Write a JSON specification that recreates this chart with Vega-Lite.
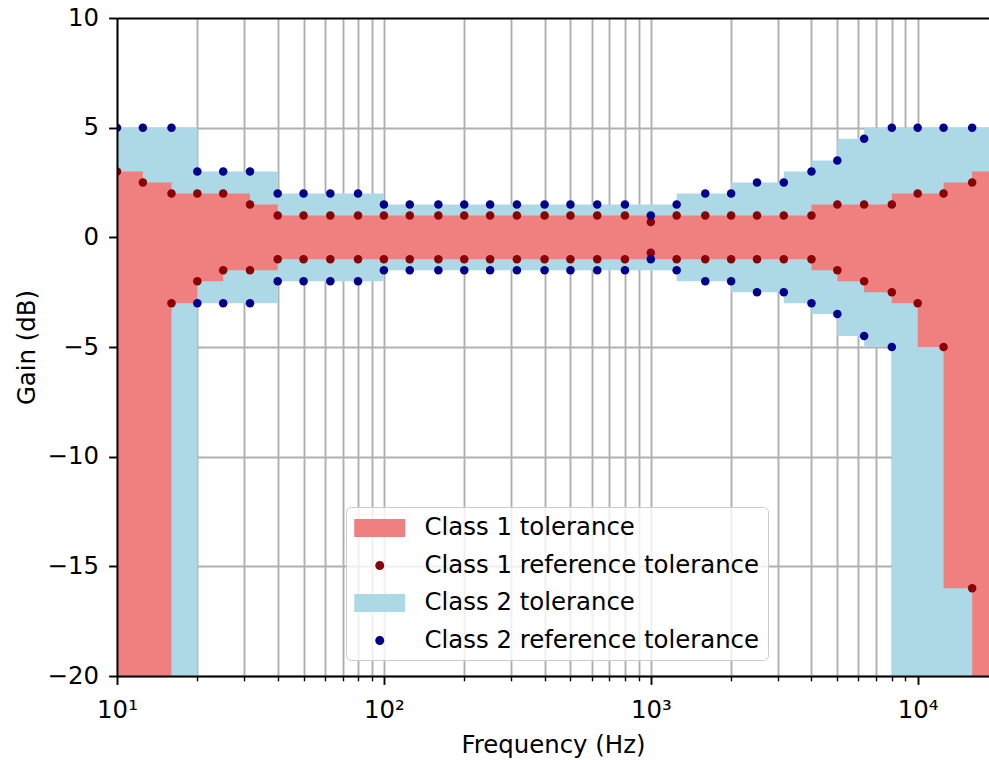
{
  "$schema": "https://vega.github.io/schema/vega-lite/v6.json",
  "autosize": {"type": "none"},
  "padding": {"left": 117, "top": 18, "right": 0, "bottom": 84},
  "width": 872,
  "height": 658,
  "background": "white",
  "config": {"font": "DejaVu Sans", "view": {"stroke": null}},
  "datasets": {
    "bands": [
      {"f": 10, "hi": 3, "lo": -20, "series": "Class 1 tolerance"},
      {"f": 12.5, "hi": 2.5, "lo": -20, "series": "Class 1 tolerance"},
      {"f": 16, "hi": 2, "lo": -3, "series": "Class 1 tolerance"},
      {"f": 20, "hi": 2, "lo": -2, "series": "Class 1 tolerance"},
      {"f": 25, "hi": 2, "lo": -1.5, "series": "Class 1 tolerance"},
      {"f": 31.5, "hi": 1.5, "lo": -1.5, "series": "Class 1 tolerance"},
      {"f": 40, "hi": 1, "lo": -1, "series": "Class 1 tolerance"},
      {"f": 50, "hi": 1, "lo": -1, "series": "Class 1 tolerance"},
      {"f": 63, "hi": 1, "lo": -1, "series": "Class 1 tolerance"},
      {"f": 80, "hi": 1, "lo": -1, "series": "Class 1 tolerance"},
      {"f": 100, "hi": 1, "lo": -1, "series": "Class 1 tolerance"},
      {"f": 125, "hi": 1, "lo": -1, "series": "Class 1 tolerance"},
      {"f": 160, "hi": 1, "lo": -1, "series": "Class 1 tolerance"},
      {"f": 200, "hi": 1, "lo": -1, "series": "Class 1 tolerance"},
      {"f": 250, "hi": 1, "lo": -1, "series": "Class 1 tolerance"},
      {"f": 315, "hi": 1, "lo": -1, "series": "Class 1 tolerance"},
      {"f": 400, "hi": 1, "lo": -1, "series": "Class 1 tolerance"},
      {"f": 500, "hi": 1, "lo": -1, "series": "Class 1 tolerance"},
      {"f": 630, "hi": 1, "lo": -1, "series": "Class 1 tolerance"},
      {"f": 800, "hi": 1, "lo": -1, "series": "Class 1 tolerance"},
      {"f": 1000, "hi": 1, "lo": -1, "series": "Class 1 tolerance"},
      {"f": 1250, "hi": 1, "lo": -1, "series": "Class 1 tolerance"},
      {"f": 1600, "hi": 1, "lo": -1, "series": "Class 1 tolerance"},
      {"f": 2000, "hi": 1, "lo": -1, "series": "Class 1 tolerance"},
      {"f": 2500, "hi": 1, "lo": -1, "series": "Class 1 tolerance"},
      {"f": 3150, "hi": 1, "lo": -1, "series": "Class 1 tolerance"},
      {"f": 4000, "hi": 1.5, "lo": -1.5, "series": "Class 1 tolerance"},
      {"f": 5000, "hi": 1.5, "lo": -2, "series": "Class 1 tolerance"},
      {"f": 6300, "hi": 1.5, "lo": -2.5, "series": "Class 1 tolerance"},
      {"f": 8000, "hi": 2, "lo": -3, "series": "Class 1 tolerance"},
      {"f": 10000, "hi": 2, "lo": -5, "series": "Class 1 tolerance"},
      {"f": 12500, "hi": 2.5, "lo": -16, "series": "Class 1 tolerance"},
      {"f": 16000, "hi": 3, "lo": -20, "series": "Class 1 tolerance"},
      {"f": 20000, "hi": 3, "lo": -20, "series": "Class 1 tolerance"},
      {"f": 10, "hi": 5, "lo": -20, "series": "Class 2 tolerance"},
      {"f": 12.5, "hi": 5, "lo": -20, "series": "Class 2 tolerance"},
      {"f": 16, "hi": 5, "lo": -20, "series": "Class 2 tolerance"},
      {"f": 20, "hi": 3, "lo": -3, "series": "Class 2 tolerance"},
      {"f": 25, "hi": 3, "lo": -3, "series": "Class 2 tolerance"},
      {"f": 31.5, "hi": 3, "lo": -3, "series": "Class 2 tolerance"},
      {"f": 40, "hi": 2, "lo": -2, "series": "Class 2 tolerance"},
      {"f": 50, "hi": 2, "lo": -2, "series": "Class 2 tolerance"},
      {"f": 63, "hi": 2, "lo": -2, "series": "Class 2 tolerance"},
      {"f": 80, "hi": 2, "lo": -2, "series": "Class 2 tolerance"},
      {"f": 100, "hi": 1.5, "lo": -1.5, "series": "Class 2 tolerance"},
      {"f": 125, "hi": 1.5, "lo": -1.5, "series": "Class 2 tolerance"},
      {"f": 160, "hi": 1.5, "lo": -1.5, "series": "Class 2 tolerance"},
      {"f": 200, "hi": 1.5, "lo": -1.5, "series": "Class 2 tolerance"},
      {"f": 250, "hi": 1.5, "lo": -1.5, "series": "Class 2 tolerance"},
      {"f": 315, "hi": 1.5, "lo": -1.5, "series": "Class 2 tolerance"},
      {"f": 400, "hi": 1.5, "lo": -1.5, "series": "Class 2 tolerance"},
      {"f": 500, "hi": 1.5, "lo": -1.5, "series": "Class 2 tolerance"},
      {"f": 630, "hi": 1.5, "lo": -1.5, "series": "Class 2 tolerance"},
      {"f": 800, "hi": 1.5, "lo": -1.5, "series": "Class 2 tolerance"},
      {"f": 1000, "hi": 1.5, "lo": -1.5, "series": "Class 2 tolerance"},
      {"f": 1250, "hi": 2, "lo": -2, "series": "Class 2 tolerance"},
      {"f": 1600, "hi": 2, "lo": -2, "series": "Class 2 tolerance"},
      {"f": 2000, "hi": 2.5, "lo": -2.5, "series": "Class 2 tolerance"},
      {"f": 2500, "hi": 2.5, "lo": -2.5, "series": "Class 2 tolerance"},
      {"f": 3150, "hi": 3, "lo": -3, "series": "Class 2 tolerance"},
      {"f": 4000, "hi": 3.5, "lo": -3.5, "series": "Class 2 tolerance"},
      {"f": 5000, "hi": 4.5, "lo": -4.5, "series": "Class 2 tolerance"},
      {"f": 6300, "hi": 5, "lo": -5, "series": "Class 2 tolerance"},
      {"f": 8000, "hi": 5, "lo": -20, "series": "Class 2 tolerance"},
      {"f": 10000, "hi": 5, "lo": -20, "series": "Class 2 tolerance"},
      {"f": 12500, "hi": 5, "lo": -20, "series": "Class 2 tolerance"},
      {"f": 16000, "hi": 5, "lo": -20, "series": "Class 2 tolerance"},
      {"f": 20000, "hi": 5, "lo": -20, "series": "Class 2 tolerance"}
    ],
    "dots": [
      {"f": 10, "v": 3, "series": "Class 1 reference tolerance"},
      {"f": 12.5, "v": 2.5, "series": "Class 1 reference tolerance"},
      {"f": 16, "v": 2, "series": "Class 1 reference tolerance"},
      {"f": 20, "v": 2, "series": "Class 1 reference tolerance"},
      {"f": 25, "v": 2, "series": "Class 1 reference tolerance"},
      {"f": 31.5, "v": 1.5, "series": "Class 1 reference tolerance"},
      {"f": 40, "v": 1, "series": "Class 1 reference tolerance"},
      {"f": 50, "v": 1, "series": "Class 1 reference tolerance"},
      {"f": 63, "v": 1, "series": "Class 1 reference tolerance"},
      {"f": 80, "v": 1, "series": "Class 1 reference tolerance"},
      {"f": 100, "v": 1, "series": "Class 1 reference tolerance"},
      {"f": 125, "v": 1, "series": "Class 1 reference tolerance"},
      {"f": 160, "v": 1, "series": "Class 1 reference tolerance"},
      {"f": 200, "v": 1, "series": "Class 1 reference tolerance"},
      {"f": 250, "v": 1, "series": "Class 1 reference tolerance"},
      {"f": 315, "v": 1, "series": "Class 1 reference tolerance"},
      {"f": 400, "v": 1, "series": "Class 1 reference tolerance"},
      {"f": 500, "v": 1, "series": "Class 1 reference tolerance"},
      {"f": 630, "v": 1, "series": "Class 1 reference tolerance"},
      {"f": 800, "v": 1, "series": "Class 1 reference tolerance"},
      {"f": 1000, "v": 0.7, "series": "Class 1 reference tolerance"},
      {"f": 1250, "v": 1, "series": "Class 1 reference tolerance"},
      {"f": 1600, "v": 1, "series": "Class 1 reference tolerance"},
      {"f": 2000, "v": 1, "series": "Class 1 reference tolerance"},
      {"f": 2500, "v": 1, "series": "Class 1 reference tolerance"},
      {"f": 3150, "v": 1, "series": "Class 1 reference tolerance"},
      {"f": 4000, "v": 1, "series": "Class 1 reference tolerance"},
      {"f": 5000, "v": 1.5, "series": "Class 1 reference tolerance"},
      {"f": 6300, "v": 1.5, "series": "Class 1 reference tolerance"},
      {"f": 8000, "v": 1.5, "series": "Class 1 reference tolerance"},
      {"f": 10000, "v": 2, "series": "Class 1 reference tolerance"},
      {"f": 12500, "v": 2, "series": "Class 1 reference tolerance"},
      {"f": 16000, "v": 2.5, "series": "Class 1 reference tolerance"},
      {"f": 20000, "v": 3, "series": "Class 1 reference tolerance"},
      {"f": 16, "v": -3, "series": "Class 1 reference tolerance"},
      {"f": 20, "v": -2, "series": "Class 1 reference tolerance"},
      {"f": 25, "v": -1.5, "series": "Class 1 reference tolerance"},
      {"f": 31.5, "v": -1.5, "series": "Class 1 reference tolerance"},
      {"f": 40, "v": -1, "series": "Class 1 reference tolerance"},
      {"f": 50, "v": -1, "series": "Class 1 reference tolerance"},
      {"f": 63, "v": -1, "series": "Class 1 reference tolerance"},
      {"f": 80, "v": -1, "series": "Class 1 reference tolerance"},
      {"f": 100, "v": -1, "series": "Class 1 reference tolerance"},
      {"f": 125, "v": -1, "series": "Class 1 reference tolerance"},
      {"f": 160, "v": -1, "series": "Class 1 reference tolerance"},
      {"f": 200, "v": -1, "series": "Class 1 reference tolerance"},
      {"f": 250, "v": -1, "series": "Class 1 reference tolerance"},
      {"f": 315, "v": -1, "series": "Class 1 reference tolerance"},
      {"f": 400, "v": -1, "series": "Class 1 reference tolerance"},
      {"f": 500, "v": -1, "series": "Class 1 reference tolerance"},
      {"f": 630, "v": -1, "series": "Class 1 reference tolerance"},
      {"f": 800, "v": -1, "series": "Class 1 reference tolerance"},
      {"f": 1000, "v": -0.7, "series": "Class 1 reference tolerance"},
      {"f": 1250, "v": -1, "series": "Class 1 reference tolerance"},
      {"f": 1600, "v": -1, "series": "Class 1 reference tolerance"},
      {"f": 2000, "v": -1, "series": "Class 1 reference tolerance"},
      {"f": 2500, "v": -1, "series": "Class 1 reference tolerance"},
      {"f": 3150, "v": -1, "series": "Class 1 reference tolerance"},
      {"f": 4000, "v": -1, "series": "Class 1 reference tolerance"},
      {"f": 5000, "v": -1.5, "series": "Class 1 reference tolerance"},
      {"f": 6300, "v": -2, "series": "Class 1 reference tolerance"},
      {"f": 8000, "v": -2.5, "series": "Class 1 reference tolerance"},
      {"f": 10000, "v": -3, "series": "Class 1 reference tolerance"},
      {"f": 12500, "v": -5, "series": "Class 1 reference tolerance"},
      {"f": 16000, "v": -16, "series": "Class 1 reference tolerance"},
      {"f": 10, "v": 5, "series": "Class 2 reference tolerance"},
      {"f": 12.5, "v": 5, "series": "Class 2 reference tolerance"},
      {"f": 16, "v": 5, "series": "Class 2 reference tolerance"},
      {"f": 20, "v": 3, "series": "Class 2 reference tolerance"},
      {"f": 25, "v": 3, "series": "Class 2 reference tolerance"},
      {"f": 31.5, "v": 3, "series": "Class 2 reference tolerance"},
      {"f": 40, "v": 2, "series": "Class 2 reference tolerance"},
      {"f": 50, "v": 2, "series": "Class 2 reference tolerance"},
      {"f": 63, "v": 2, "series": "Class 2 reference tolerance"},
      {"f": 80, "v": 2, "series": "Class 2 reference tolerance"},
      {"f": 100, "v": 1.5, "series": "Class 2 reference tolerance"},
      {"f": 125, "v": 1.5, "series": "Class 2 reference tolerance"},
      {"f": 160, "v": 1.5, "series": "Class 2 reference tolerance"},
      {"f": 200, "v": 1.5, "series": "Class 2 reference tolerance"},
      {"f": 250, "v": 1.5, "series": "Class 2 reference tolerance"},
      {"f": 315, "v": 1.5, "series": "Class 2 reference tolerance"},
      {"f": 400, "v": 1.5, "series": "Class 2 reference tolerance"},
      {"f": 500, "v": 1.5, "series": "Class 2 reference tolerance"},
      {"f": 630, "v": 1.5, "series": "Class 2 reference tolerance"},
      {"f": 800, "v": 1.5, "series": "Class 2 reference tolerance"},
      {"f": 1000, "v": 1, "series": "Class 2 reference tolerance"},
      {"f": 1250, "v": 1.5, "series": "Class 2 reference tolerance"},
      {"f": 1600, "v": 2, "series": "Class 2 reference tolerance"},
      {"f": 2000, "v": 2, "series": "Class 2 reference tolerance"},
      {"f": 2500, "v": 2.5, "series": "Class 2 reference tolerance"},
      {"f": 3150, "v": 2.5, "series": "Class 2 reference tolerance"},
      {"f": 4000, "v": 3, "series": "Class 2 reference tolerance"},
      {"f": 5000, "v": 3.5, "series": "Class 2 reference tolerance"},
      {"f": 6300, "v": 4.5, "series": "Class 2 reference tolerance"},
      {"f": 8000, "v": 5, "series": "Class 2 reference tolerance"},
      {"f": 10000, "v": 5, "series": "Class 2 reference tolerance"},
      {"f": 12500, "v": 5, "series": "Class 2 reference tolerance"},
      {"f": 16000, "v": 5, "series": "Class 2 reference tolerance"},
      {"f": 20000, "v": 5, "series": "Class 2 reference tolerance"},
      {"f": 20, "v": -3, "series": "Class 2 reference tolerance"},
      {"f": 25, "v": -3, "series": "Class 2 reference tolerance"},
      {"f": 31.5, "v": -3, "series": "Class 2 reference tolerance"},
      {"f": 40, "v": -2, "series": "Class 2 reference tolerance"},
      {"f": 50, "v": -2, "series": "Class 2 reference tolerance"},
      {"f": 63, "v": -2, "series": "Class 2 reference tolerance"},
      {"f": 80, "v": -2, "series": "Class 2 reference tolerance"},
      {"f": 100, "v": -1.5, "series": "Class 2 reference tolerance"},
      {"f": 125, "v": -1.5, "series": "Class 2 reference tolerance"},
      {"f": 160, "v": -1.5, "series": "Class 2 reference tolerance"},
      {"f": 200, "v": -1.5, "series": "Class 2 reference tolerance"},
      {"f": 250, "v": -1.5, "series": "Class 2 reference tolerance"},
      {"f": 315, "v": -1.5, "series": "Class 2 reference tolerance"},
      {"f": 400, "v": -1.5, "series": "Class 2 reference tolerance"},
      {"f": 500, "v": -1.5, "series": "Class 2 reference tolerance"},
      {"f": 630, "v": -1.5, "series": "Class 2 reference tolerance"},
      {"f": 800, "v": -1.5, "series": "Class 2 reference tolerance"},
      {"f": 1000, "v": -1, "series": "Class 2 reference tolerance"},
      {"f": 1250, "v": -1.5, "series": "Class 2 reference tolerance"},
      {"f": 1600, "v": -2, "series": "Class 2 reference tolerance"},
      {"f": 2000, "v": -2, "series": "Class 2 reference tolerance"},
      {"f": 2500, "v": -2.5, "series": "Class 2 reference tolerance"},
      {"f": 3150, "v": -2.5, "series": "Class 2 reference tolerance"},
      {"f": 4000, "v": -3, "series": "Class 2 reference tolerance"},
      {"f": 5000, "v": -3.5, "series": "Class 2 reference tolerance"},
      {"f": 6300, "v": -4.5, "series": "Class 2 reference tolerance"},
      {"f": 8000, "v": -5, "series": "Class 2 reference tolerance"}
    ]
  },
  "resolve": {"axis": {"x": "independent", "y": "independent"}},
  "layer": [
    {
      "data": {"name": "bands"},
      "transform": [{"filter": "datum.series == 'Class 2 tolerance'"}],
      "mark": {"type": "area", "interpolate": "step-after", "opacity": 1, "clip": true, "strokeWidth": 0},
      "encoding": {
        "x": {"field": "f", "type": "quantitative",
          "scale": {"type": "log", "domain": [10, 18500], "nice": false},
          "axis": {"orient": "bottom", "values": [10,20,30,40,50,60,70,80,90,100,200,300,400,500,600,700,800,900,1000,2000,3000,4000,5000,6000,7000,8000,9000,10000],
            "grid": true, "gridColor": "#b0b0b0", "gridWidth": 1.9, "domain": false, "ticks": false, "labels": false, "title": null, "zindex": 0}},
        "y": {"field": "hi", "type": "quantitative", "stack": null,
          "scale": {"domain": [-20, 10], "nice": false, "zero": false},
          "axis": {"orient": "left", "values": [-20,-15,-10,-5,0,5,10], "grid": true,
            "gridColor": {"condition": {"test": "datum.value == 10", "value": "black"}, "value": "#b0b0b0"},
            "gridWidth": 1.9, "domain": false, "ticks": false, "labels": false, "title": null, "zindex": 0}},
        "y2": {"field": "lo"},
        "color": {"field": "series", "type": "nominal",
          "scale": {"domain": ["Class 1 tolerance", "Class 1 reference tolerance", "Class 2 tolerance", "Class 2 reference tolerance"],
                    "range": ["#f08080", "#8b0000", "#add8e6", "#00008b"]},
          "legend": {"orient": "none", "legendX": 229, "legendY": 489, "title": null,
            "labelFontSize": 24.4, "labelColor": "black", "labelLimit": 1000,
            "symbolType": {"expr": "indexof(datum.value, 'reference') >= 0 ? 'M1.353,0A0.353,0.353,0,1,1,0.647,0A0.353,0.353,0,1,1,1.353,0Z' : 'M-1,-0.7H3V0.7H-1Z'"},
            "symbolSize": 650, "symbolStrokeWidth": 0, "symbolOpacity": 1,
            "labelOffset": 44.5, "rowPadding": 12.5, "padding": 8,
            "fillColor": "rgba(255,255,255,0.8)", "strokeColor": "#cccccc", "cornerRadius": 5}}
      }
    },
    {
      "data": {"name": "bands"},
      "transform": [{"filter": "datum.series == 'Class 1 tolerance'"}],
      "mark": {"type": "area", "interpolate": "step-after", "opacity": 1, "clip": true, "strokeWidth": 0},
      "encoding": {
        "x": {"field": "f", "type": "quantitative", "axis": null},
        "y": {"field": "hi", "type": "quantitative", "stack": null, "axis": null},
        "y2": {"field": "lo"},
        "color": {"field": "series", "type": "nominal"}
      }
    },
    {
      "data": {"name": "dots"},
      "mark": {"type": "point", "filled": true, "size": 72, "opacity": 1, "strokeWidth": 0, "clip": true},
      "encoding": {
        "x": {"field": "f", "type": "quantitative",
          "axis": {"orient": "bottom", "values": [10,20,30,40,50,60,70,80,90,100,200,300,400,500,600,700,800,900,1000,2000,3000,4000,5000,6000,7000,8000,9000,10000],
            "grid": false, "domain": true, "domainColor": "black", "domainWidth": 1.9,
            "ticks": true, "tickColor": "black",
            "tickSize": {"condition": {"test": "datum.value == 10 || datum.value == 100 || datum.value == 1000 || datum.value == 10000", "value": 8.4}, "value": 4.8},
            "tickWidth": {"condition": {"test": "datum.value == 10 || datum.value == 100 || datum.value == 1000 || datum.value == 10000", "value": 1.9}, "value": 1.4},
            "labelExpr": "datum.value == 10 ? '10¹' : datum.value == 100 ? '10²' : datum.value == 1000 ? '10³' : datum.value == 10000 ? '10⁴' : ''",
            "labelFontSize": 24.4, "labelColor": "black", "labelPadding": 14, "labelOverlap": false, "labelBound": false, "labelFlush": false,
            "title": "Frequency (Hz)", "titleFontSize": 24.4, "titleFontWeight": "normal", "titleColor": "black", "titlePadding": 12, "zindex": 1}},
        "y": {"field": "v", "type": "quantitative",
          "axis": {"orient": "left", "values": [-20,-15,-10,-5,0,5,10], "grid": false,
            "domain": true, "domainColor": "black", "domainWidth": 1.9,
            "ticks": true, "tickColor": "black", "tickSize": 8.4, "tickWidth": 1.9,
            "labelFontSize": 24.4, "labelColor": "black", "labelPadding": 10, "labelFlush": false, "labelBound": false,
            "title": "Gain (dB)", "titleFontSize": 24.4, "titleFontWeight": "normal", "titleColor": "black", "titlePadding": 8, "zindex": 1}},
        "color": {"field": "series", "type": "nominal"}
      }
    }
  ]
}
